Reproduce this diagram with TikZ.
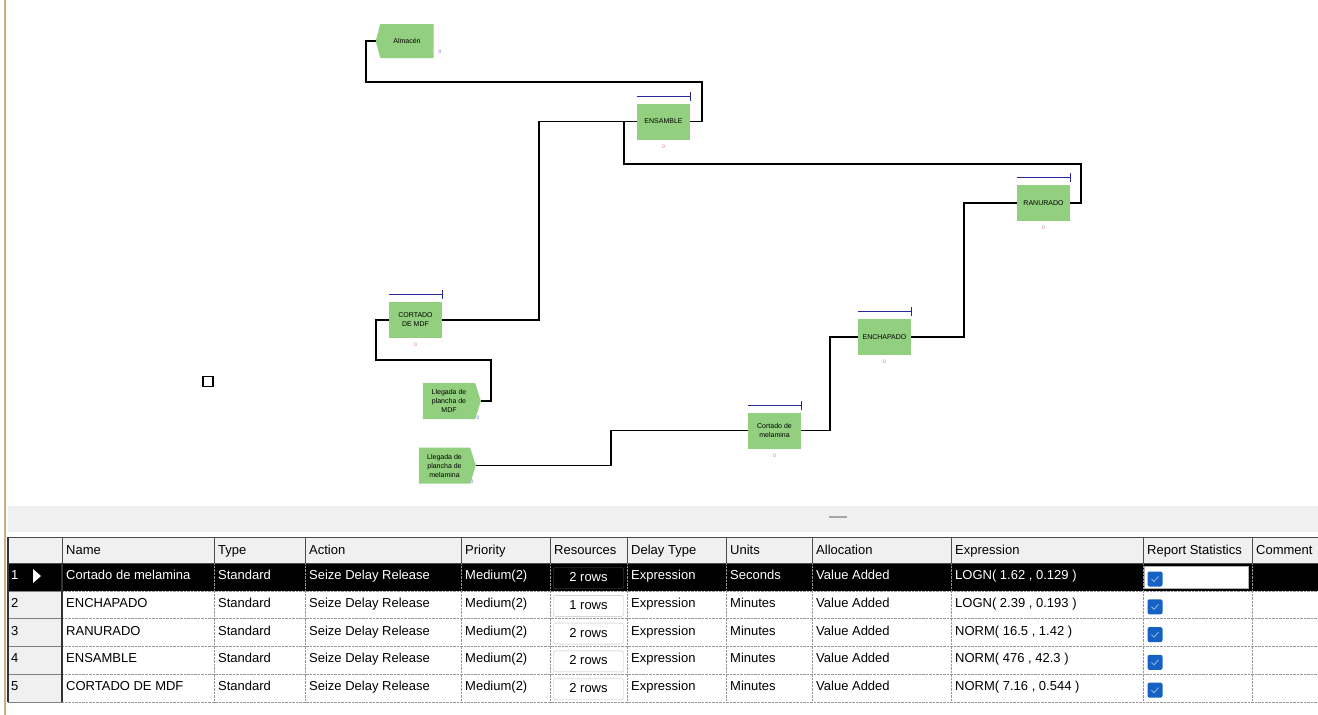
\documentclass[tikz,border=0pt]{standalone}
\usepackage{fontspec}
\setmainfont{Liberation Sans}
\usetikzlibrary{arrows.meta, positioning, shapes.symbols, calc}
\definecolor{modgreen}{RGB}{146,208,128}
\definecolor{qblue}{RGB}{40,40,150}
\definecolor{panelgray}{RGB}{240,240,240}
\definecolor{gridgray}{RGB}{150,150,150}
\definecolor{chkblue}{RGB}{22,98,196}
\definecolor{frametan}{RGB}{205,175,125}
\definecolor{cntred}{RGB}{225,110,110}
\definecolor{cntblue}{RGB}{110,110,225}
\tikzset{
    proc/.style={fill=modgreen, minimum width=53pt, minimum height=36pt, inner sep=1pt,
        align=center, font=\fontsize{7}{9}\selectfont},
    createmod/.style={proc, signal, signal to=east, signal pointer angle=145, minimum width=58pt},
    disposemod/.style={proc, signal, signal to=west, signal pointer angle=150, minimum width=58pt, minimum height=34pt},
    queue/.style={qblue, line width=1.2pt, -{Bar[width=9pt, line width=1.2pt]}},
    counter/.style={font=\fontsize{5}{5}\selectfont, inner sep=0pt},
    link/.style={black, line width=1.1pt},
    cell/.style={anchor=west, inner sep=0pt, text height=10pt, text depth=3pt, font=\fontsize{13}{15}\selectfont},
    rowsbtn/.style={draw=gray!50, fill=white, rounded corners=2pt, minimum width=70pt,
        minimum height=21pt, inner sep=0pt, text height=10pt, text depth=3pt, font=\fontsize{13}{15}\selectfont},
    chkbox/.style={fill=chkblue, rounded corners=2pt, minimum size=15pt, inner sep=0pt},
}
\begin{document}
\begin{tikzpicture}[x=1pt, y=-1pt]
    \useasboundingbox (0,0) rectangle (1318,715);
    \fill[white] (0,0) rectangle (1318,715);
    \draw[frametan, line width=2pt] (5,0) -- (5,715);
    % modules
    \node[disposemod] (alm) at (407,41) {Almacén};
    \node[proc] (ens) at (663.5,121.5) {ENSAMBLE};
    \node[proc] (ran) at (1043.5,203) {RANURADO};
    \node[proc] (cmdf) at (415.5,320) {CORTADO\\DE MDF};
    \node[proc] (ench) at (884.5,337) {ENCHAPADO};
    \node[proc] (cmel) at (774.5,430.5) {Cortado de\\melamina};
    \node[createmod] (llmdf) at (449,401) {Llegada de\\plancha de\\MDF};
    \node[createmod, minimum width=57pt] (llmel) at (444.5,465.5) {Llegada de\\plancha de\\melamina};
    % queues
    \foreach \m in {ens, ran, cmdf, ench, cmel}
        \draw[queue] ([yshift=7pt]\m.north west) -- ([yshift=7pt, xshift=1pt]\m.north east);
    % counters
    \foreach \m in {ens, ran, cmdf, ench, cmel}
        \node[counter, text=cntred] (\m cnt) [below=5pt of \m] {0};
    \node[counter, text=cntblue] (almcnt) at (440,52) {0};
    \node[counter, text=cntblue] (llmdfcnt) at (478,418) {0};
    \node[counter, text=cntblue] (llmelcnt) at (472,482) {0};
    % connectors
    \coordinate (k1) at (491,360);
    \coordinate (k2) at (376,360);
    \draw[link] (llmdf.east) -| (k1) -- (k2) |- (cmdf.west);
    \coordinate (k3) at (611,448);
    \draw[link] (llmel.east) -| (k3) |- (cmel.west);
    \coordinate (k4) at (830,380);
    \draw[link] (cmel.east) -| (k4) |- (ench.west);
    \coordinate (k5) at (964,270);
    \draw[link] (ench.east) -| (k5) |- (ran.west);
    \coordinate (k6) at (539,220);
    \draw[link] (cmdf.east) -| (k6) |- (ens.west);
    \coordinate (k7) at (1081,164);
    \coordinate (k8) at (624,164);
    \draw[link] (ran.east) -| (k7) -- (k8) |- (ens.west);
    \coordinate (k9) at (702,82);
    \coordinate (k10) at (366,82);
    \draw[link] (ens.east) -| (k9) -- (k10) |- (alm.west);
    \node[draw, line width=1.3pt, minimum size=10pt, inner sep=0pt] (box) at (208,381.5) {};
    % splitter band
    \fill[panelgray] (8,506) rectangle (1318,532);
    \draw[gray!70, line width=2.5pt] (829,517) -- (847,517);
    % table
    \fill[panelgray] (8,537) rectangle (1318,563);
    \fill[panelgray] (8,563) rectangle (62,702);
    \fill[black] (8,563) rectangle (1318,591);
    \foreach \y in {591,618,646,674,702} {
        \draw[gridgray, densely dotted] (62,\y) -- (1318,\y);
        \draw[gray] (8,\y) -- (62,\y);
    }
    \foreach \x in {214,305,461,550,627,726,812,951,1143,1252}
        \draw[gridgray, densely dotted] (\x,563) -- (\x,702);
    \foreach \x in {62,214,305,461,550,627,726,812,951,1143,1252}
        \draw[gray!60!black] (\x,537) -- (\x,563);
    \draw[gray!60!black] (8,537) -- (1318,537);
    \draw[gray!60!black] (8,563) -- (1318,563);
    \draw[black!80, line width=1.2pt] (8,537) -- (8,702);
    \draw[black!80, line width=1.2pt] (62,563) -- (62,702);
    \foreach \x/\t in {66/Name, 218/Type, 309/Action, 465/Priority, 554/Resources,
        631/Delay Type, 730/Units, 816/Allocation, 955/Expression, 1147/Report Statistics, 1256/Comment}
        \node[cell] (hd\x) at (\x,551) {\t};
    \fill[white] (33,569) -- (41,576) -- (33,583) -- cycle;
    \node[draw=gray!60, fill=white, minimum width=104pt, minimum height=22pt, inner sep=0pt] (input1) at (1196,577) {};
    \foreach \nm/\un/\ex/\rs [count=\i] in {Cortado de melamina/Seconds/{LOGN( 1.62 , 0.129 )}/2,
        ENCHAPADO/Minutes/{LOGN( 2.39 , 0.193 )}/1, RANURADO/Minutes/{NORM( 16.5 , 1.42 )}/2,
        ENSAMBLE/Minutes/{NORM( 476 , 42.3 )}/2, CORTADO DE MDF/Minutes/{NORM( 7.16 , 0.544 )}/2}
    {
        \pgfmathsetmacro\yc{577+27.8*(\i-1)}
        \ifnum\i=1 \def\tc{white}\def\bf{black}\def\bd{gray!70!black}\else\def\tc{black}\def\bf{white}\def\bd{gray!50}\fi
        \node[cell, text=\tc] (no\i) at (11,\yc-1) {\i};
        \node[cell, text=\tc] (nm\i) at (66,\yc-1) {\nm};
        \node[cell, text=\tc] (ty\i) at (218,\yc-1) {Standard};
        \node[cell, text=\tc] (ac\i) at (309,\yc-1) {Seize Delay Release};
        \node[cell, text=\tc] (pr\i) at (465,\yc-1) {Medium(2)};
        \node[rowsbtn, fill=\bf, draw=\bd, text=\tc] (rs\i) at (588.5,\yc+1) {\rs\ rows};
        \node[cell, text=\tc] (dt\i) at (631,\yc-1) {Expression};
        \node[cell, text=\tc] (un\i) at (730,\yc-1) {\un};
        \node[cell, text=\tc] (al\i) at (816,\yc-1) {Value Added};
        \node[cell, text=\tc] (ex\i) at (955,\yc-1) {\ex};
        \node[chkbox] (chk\i) at (1155,\yc+2) {};
        \draw[white!55!chkblue, line width=0.8pt] ($(chk\i.center)+(-3.5,0)$) -- ++(2.5,2.5) -- ++(4.5,-5);
    }
\end{tikzpicture}
\end{document}
